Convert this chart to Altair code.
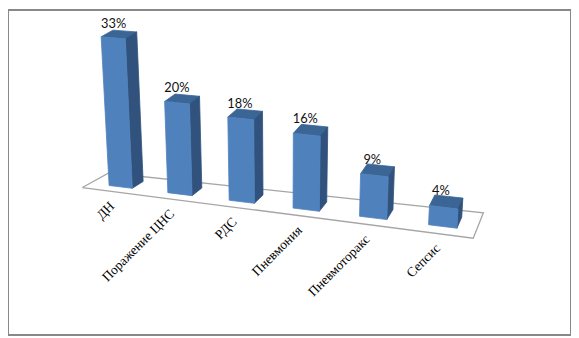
import numpy as np
import pandas as pd
import altair as alt

categories = ["ДН", "Поражение ЦНС", "РДС", "Пневмония", "Пневмоторакс", "Сепсис"]
values = [33, 20, 18, 16, 9, 4]
labels = ["33%", "20%", "18%", "16%", "9%", "4%"]

# Camera of the pseudo-3D view: the floor's four corners and where verticals converge
FLOOR = [(83.3, 187.7), (479, 239), (489.3, 213.3), (110, 173)]
VANISH = np.array([285.0, 3450.0])
N = len(categories)
A, B, C, D = [np.array(p) for p in FLOOR]


def project(u, d, value=0.0):
    t = u / N
    s = t * (0.88 + 0.12 * t)
    front = A + (B - A) * s
    back = D + (C - D) * s
    base = front + (back - front) * d
    k = 4.55 + 0.055 * u
    up = base - VANISH
    up = up / np.linalg.norm(up)
    return base + up * k * value


BAR_W, D0, D1, SHIFT = 0.40, 0.3, 0.74, 0.03
rows = []


def face(name, bar, pts):
    for i, p in enumerate(pts + pts[:1]):
        x, y = project(*p)
        rows.append(dict(face=name, bar=bar, order=i, x=float(x), y=float(y)))


text_rows = []
for i, (c, v, lab) in enumerate(zip(categories, values, labels)):
    c0, c1 = i + 0.5 + SHIFT - BAR_W / 2, i + 0.5 + SHIFT + BAR_W / 2
    face("top", i, [(c0, D0, v), (c1, D0, v), (c1, D1, v), (c0, D1, v)])
    face("side", i, [(c1, D0, 0), (c1, D1, 0), (c1, D1, v), (c1, D0, v)])
    face("front", i, [(c0, D0, 0), (c1, D0, 0), (c1, D0, v), (c0, D0, v)])
    tx, ty = project(i + 0.5, 0.5, v)
    lx, ly = project(i + 0.5, 0.0, 0)
    text_rows.append(dict(cat=c, lab=lab, tx=float(tx) - 3, ty=float(ty) - 11,
                          lx=float(lx) + 1, ly=float(ly) + 13))

faces = pd.DataFrame(rows)
texts = pd.DataFrame(text_rows)
floor = pd.DataFrame([dict(x=p[0], y=p[1], order=i) for i, p in enumerate(FLOOR + FLOOR[:1])])

xs = alt.Scale(domain=[8, 579], range=[0, 571], zero=False, nice=False, clamp=False)
ys = alt.Scale(domain=[8, 338], range=[0, 330], zero=False, nice=False, clamp=False)
X = alt.X("x:Q", scale=xs, axis=None)
Y = alt.Y("y:Q", scale=ys, axis=None)

floor_layer = alt.Chart(floor).mark_line(stroke="#A6A6A6", strokeWidth=1.3, fill="#FFFFFF").encode(
    x=X, y=Y, order="order:Q")


def layer(name, color):
    return alt.Chart(faces[faces.face == name]).mark_line(
        fill=color, stroke=color, strokeWidth=0.8
    ).encode(x=X, y=Y, order="order:Q", detail="bar:N")


pct = alt.Chart(texts).mark_text(font="Lato", fontSize=13, color="#111111").encode(
    x=alt.X("tx:Q", scale=xs, axis=None), y=alt.Y("ty:Q", scale=ys, axis=None), text="lab:N")
cat = alt.Chart(texts).mark_text(font="Liberation Serif", fontSize=13.5, color="#000000", angle=315,
                                 align="right", baseline="middle").encode(
    x=alt.X("lx:Q", scale=xs, axis=None), y=alt.Y("ly:Q", scale=ys, axis=None), text="cat:N")

chart = alt.layer(
    floor_layer,
    layer("top", "#3A6595"),
    layer("side", "#30527C"),
    layer("front", "#4F81BD"),
    pct,
    cat,
).properties(width=570, height=329, padding=0, background="#FFFFFF").configure_view(
    stroke="#888888", strokeWidth=2)

chart.save("out.html", embed_options={"renderer": "svg", "actions": False})
